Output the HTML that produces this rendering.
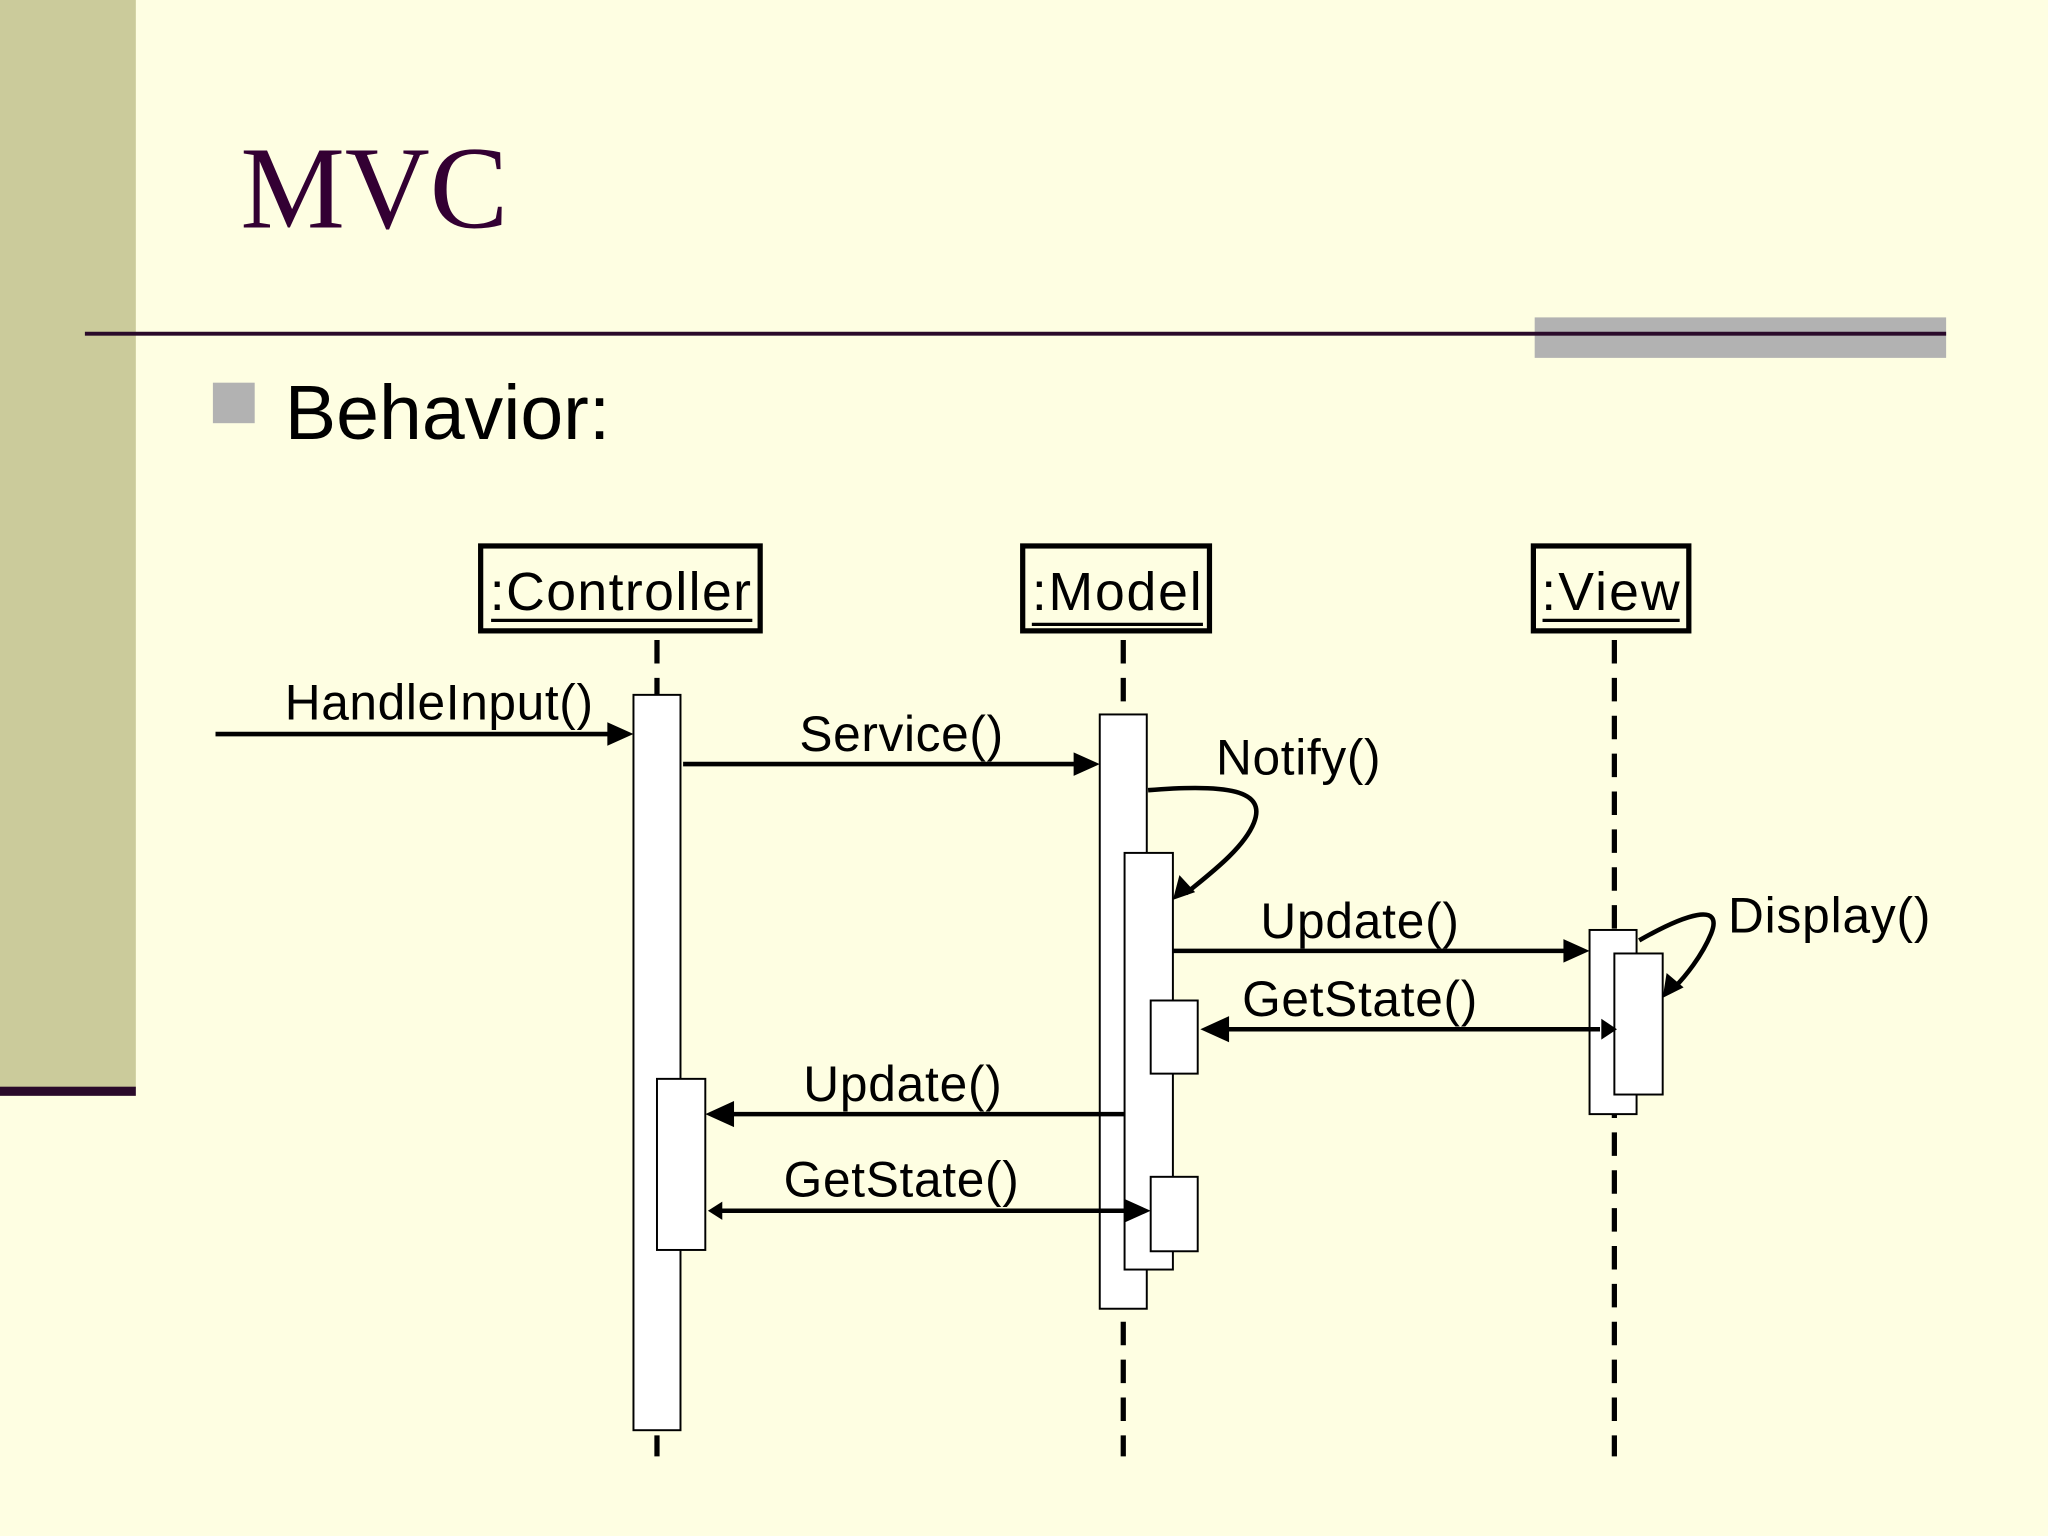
<!DOCTYPE html>
<html><head><meta charset="utf-8"><style>
html,body{margin:0;padding:0;background:#fefee2;}
svg{display:block;}
text{font-family:"Liberation Sans",sans-serif;fill:#000;}
</style></head><body>
<svg width="2048" height="1536" viewBox="0 0 1568 1176" xmlns="http://www.w3.org/2000/svg">
<rect width="1568" height="1176" fill="#fefee2"/>
<rect x="0" y="0" width="104" height="834" fill="#cbcb9b"/>
<rect x="0" y="832" width="104" height="7" fill="#2a0a2a"/>
<text x="184" y="174" style="font-family:'Liberation Serif',serif;font-size:90px;fill:#330033">MVC</text>
<rect x="1175" y="243" width="315" height="31" fill="#b2b2b2"/>
<rect x="65" y="254" width="1425" height="3" fill="#2a0a2a"/>
<rect x="163" y="293" width="32" height="31" fill="#b2b2b2"/>
<text x="218" y="336" style="font-size:59px">Behavior:</text>

<g fill="none" stroke="#000" stroke-width="4">
<rect x="368" y="418" width="214" height="65"/>
<rect x="783" y="418" width="143" height="65"/>
<rect x="1174" y="418" width="119" height="65"/>
</g>
<text x="475" y="467" text-anchor="middle" textLength="200" style="font-size:41px">:Controller</text>
<line x1="376" y1="475" x2="576" y2="475" stroke="#000" stroke-width="2.5"/>
<text x="855" y="467" text-anchor="middle" textLength="130" style="font-size:41px">:Model</text>
<line x1="790" y1="478" x2="921" y2="478" stroke="#000" stroke-width="2.5"/>
<text x="1233" y="467" text-anchor="middle" textLength="106" style="font-size:41px">:View</text>
<line x1="1181" y1="475" x2="1286" y2="475" stroke="#000" stroke-width="2.5"/>

<g stroke="#000" stroke-width="4" stroke-dasharray="18,11">
<line x1="503" y1="490" x2="503" y2="1115"/>
<line x1="860" y1="490" x2="860" y2="1115"/>
<line x1="1236" y1="490" x2="1236" y2="1115"/>
</g>

<g fill="#fff" stroke="#000" stroke-width="1.5">
<rect x="485" y="532" width="36" height="563"/>
<rect x="503" y="826" width="37" height="131"/>
<rect x="842" y="547" width="36" height="455"/>
<rect x="861" y="653" width="37" height="319"/>
<rect x="881" y="766" width="36" height="56"/>
<rect x="881" y="901" width="36" height="57"/>
<rect x="1217" y="712" width="36" height="141"/>
<rect x="1236" y="730" width="37" height="108"/>
</g>

<g stroke="#000" stroke-width="3.5" fill="none">
<line x1="165" y1="562" x2="468" y2="562"/>
<line x1="523" y1="585" x2="825" y2="585"/>
<path d="M879,605 C940,600 970,605 960,630 C952,650 925,670 908,684"/>
<line x1="898" y1="728" x2="1200" y2="728"/>
<line x1="936" y1="788" x2="1225" y2="788"/>
<line x1="861" y1="853" x2="557" y2="853"/>
<line x1="550" y1="927" x2="866" y2="927"/>
<path d="M1255,720 C1290,700 1320,690 1310,715 C1303,732 1290,748 1282,756"/>
</g>
<g fill="#000">
<polygon points="485,562 465,553 465,571"/>
<polygon points="842,585 822,576 822,594"/>
<polygon points="898,689 903,670 915,683"/>
<polygon points="1217,728 1197,719 1197,737"/>
<polygon points="919,788 941,778 941,798"/>
<polygon points="1238,788 1226,780 1226,796"/>
<polygon points="540,853 562,843 562,863"/>
<polygon points="542,927 553,920 553,934"/>
<polygon points="881,927 861,918 861,936"/>
<polygon points="1273,764 1276,745 1289,756"/>
</g>

<g style="font-size:38px">
<text x="218" y="551" textLength="236">HandleInput()</text>
<text x="612" y="575" textLength="156">Service()</text>
<text x="931" y="593" textLength="126">Notify()</text>
<text x="965" y="718" textLength="152">Update()</text>
<text x="1323" y="714" textLength="155">Display()</text>
<text x="951" y="778" textLength="180">GetState()</text>
<text x="615" y="843" textLength="152">Update()</text>
<text x="600" y="916" textLength="180">GetState()</text>
</g>
</svg>
</body></html>
